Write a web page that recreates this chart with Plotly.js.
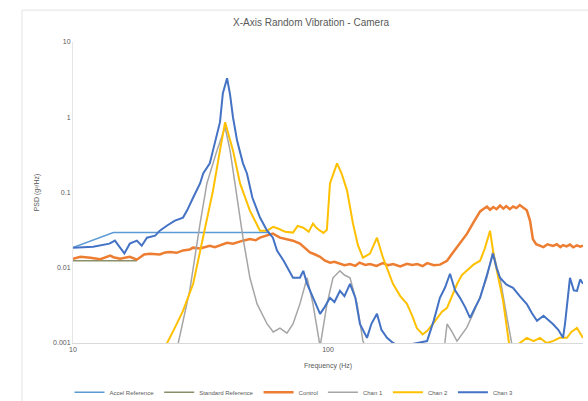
<!DOCTYPE html>
<html>
<head>
<meta charset="utf-8">
<script src="https://cdn.plot.ly/plotly-3.0.1.min.js"></script>
<style>html,body{margin:0;padding:0;background:#fff;}#chart{width:588px;height:401px;}</style>
</head>
<body>
<div id="chart"></div>
<script>
// ---- data ----
const seriesNames = ["Accel Reference", "Standard Reference", "Control", "Chan 1", "Chan 2", "Chan 3"];

const refFreq = [10, 14.4, 59.3];
const refVal  = [0.0185, 0.0293, 0.0293];

const stdFreq = [10, 17.8];
const stdVal  = [0.0124, 0.0124];

const ctrlFreq = [10, 10.7, 11.7, 12.8, 14.0, 14.4, 15.3, 16.7, 17.8, 19.0, 20.0, 21.9, 23.0, 24.0, 25.5, 27.0, 28.7, 29.6, 31.5, 33.0, 34.4, 36.0, 37.7, 40.2, 42.4, 44.5, 46.4, 49.4, 52.0, 54.1, 57.7, 60.8, 64.8, 69.0, 72.9, 77.6, 81.0, 85.0, 89.0, 93.1, 97.0, 101.8, 106, 111.4, 116, 122, 128, 133, 140, 146, 155, 164, 172, 180, 192, 204, 214, 224, 235, 245, 260, 275, 293, 305, 320, 335, 351, 372, 395, 408, 420, 432, 445, 458, 473, 487, 500, 516, 532, 548, 565, 582, 602, 620, 636, 655, 678, 700, 725, 762, 790, 815, 835, 862, 889, 915, 947, 975, 1000];
const ctrlVal  = [0.0132, 0.0140, 0.0136, 0.0130, 0.0145, 0.0138, 0.0132, 0.0140, 0.0128, 0.0150, 0.0154, 0.0150, 0.0160, 0.0162, 0.0158, 0.0170, 0.0175, 0.0185, 0.0180, 0.0190, 0.0196, 0.0188, 0.0200, 0.0215, 0.0209, 0.0222, 0.0229, 0.0240, 0.0232, 0.0251, 0.0267, 0.0284, 0.0251, 0.0240, 0.0229, 0.0209, 0.0185, 0.0160, 0.0150, 0.0140, 0.0125, 0.0117, 0.0120, 0.0113, 0.0108, 0.0112, 0.0106, 0.0117, 0.0109, 0.0112, 0.0106, 0.0115, 0.0108, 0.0112, 0.0104, 0.0113, 0.0109, 0.0112, 0.0105, 0.0115, 0.0108, 0.0110, 0.0124, 0.0150, 0.0185, 0.0230, 0.0284, 0.0400, 0.0560, 0.0610, 0.0650, 0.0590, 0.0640, 0.0600, 0.0670, 0.0610, 0.0660, 0.0600, 0.0650, 0.0620, 0.0680, 0.0630, 0.0580, 0.0420, 0.0240, 0.0205, 0.0196, 0.0188, 0.0205, 0.0195, 0.0205, 0.0188, 0.0200, 0.0192, 0.0203, 0.0187, 0.0198, 0.0190, 0.0196];

const greyFreq = [25.5, 28.7, 31.5, 33.5, 36.7, 39.5, 41.3, 44.0, 46.4, 49.4, 52.7, 57.7, 61.0, 64.8, 69.0, 72.9, 77.6, 82.8, 87.3, 93.1, 99.1, 104.6, 111.4, 116, 122, 130, 137.1, 142.2, 285, 293, 305, 320.5, 350, 372, 395, 420, 443.6, 460, 472.6, 503.6, 531.6];
const greyVal  = [0.0008, 0.0050, 0.0386, 0.132, 0.363, 0.735, 0.363, 0.0858, 0.0251, 0.00736, 0.00331, 0.00179, 0.00140, 0.00158, 0.00135, 0.00179, 0.00331, 0.00736, 0.00331, 0.0009, 0.00331, 0.00736, 0.0091, 0.0080, 0.00736, 0.00331, 0.00106, 0.0008, 0.0008, 0.00179, 0.00145, 0.00106, 0.00160, 0.00250, 0.00410, 0.00740, 0.0169, 0.0100, 0.00736, 0.00216, 0.0008];

const yelFreq = [22.0, 23.4, 25.1, 27.0, 29.6, 32.4, 35.4, 37.7, 39.5, 42.4, 45.2, 49.4, 54.1, 57.7, 61.0, 64.0, 68.0, 72.9, 76.0, 80.0, 84.0, 87.3, 90.0, 93.1, 96.0, 99.0, 101.8, 108.5, 113, 118.8, 125.3, 131, 137.1, 146.1, 155.6, 164.3, 179.8, 192, 204, 214, 223, 235, 245, 258, 268, 280, 293, 305, 321, 335, 351, 372, 395, 412, 432, 446, 460, 486, 517.4, 602, 640, 678, 720, 762, 810, 865, 900, 947, 1000];
const yelVal  = [0.0007, 0.001, 0.0016, 0.00267, 0.00612, 0.0251, 0.106, 0.363, 0.86, 0.363, 0.132, 0.0575, 0.0311, 0.0311, 0.0350, 0.0330, 0.0300, 0.0293, 0.0360, 0.0340, 0.0300, 0.0386, 0.0340, 0.0311, 0.0290, 0.0320, 0.132, 0.244, 0.180, 0.106, 0.0386, 0.0200, 0.0136, 0.0154, 0.0251, 0.0136, 0.00612, 0.00420, 0.00331, 0.00230, 0.00158, 0.00130, 0.00145, 0.00180, 0.00216, 0.00260, 0.00293, 0.00400, 0.00612, 0.00800, 0.0091, 0.0110, 0.0124, 0.0180, 0.0311, 0.0150, 0.0090, 0.00363, 0.0008, 0.00117, 0.00106, 0.00117, 0.00100, 0.00106, 0.00117, 0.00117, 0.00140, 0.00158, 0.00117];

const blueFreq = [10, 12.0, 13.9, 14.6, 15.3, 15.9, 16.7, 17.8, 18.6, 19.5, 21.0, 21.9, 23.4, 25.1, 27.0, 28.0, 29.6, 31.5, 32.4, 34.4, 35.4, 37.7, 38.7, 40.2, 41.3, 42.4, 44.0, 46.4, 48.1, 50.5, 54.1, 57.7, 60.8, 63.1, 67.0, 72.9, 77.6, 80.0, 82.8, 87.3, 93.1, 97.0, 101.8, 106, 111.4, 116, 122, 128, 133.4, 142.2, 148, 155.6, 162, 170.4, 180, 191.6, 244.6, 260, 274.7, 288, 300.9, 315, 329.3, 345, 360.6, 378, 394.8, 420, 443.6, 458, 472.6, 500, 531.6, 565, 602, 630, 660, 700, 762, 800, 835, 850, 865, 889, 920, 947, 975, 1000];
const blueVal  = [0.0185, 0.0190, 0.0209, 0.0229, 0.0185, 0.0155, 0.0209, 0.0229, 0.0196, 0.0251, 0.0267, 0.0311, 0.0364, 0.0424, 0.0464, 0.0575, 0.0858, 0.132, 0.179, 0.244, 0.363, 0.86, 2.09, 3.3, 2.0, 1.0, 0.49, 0.244, 0.179, 0.0858, 0.0464, 0.0311, 0.0251, 0.0169, 0.0124, 0.00736, 0.00736, 0.0091, 0.00612, 0.00398, 0.00244, 0.00300, 0.00398, 0.00350, 0.00494, 0.00420, 0.00612, 0.00400, 0.00179, 0.00117, 0.00180, 0.00244, 0.00150, 0.00117, 0.00100, 0.0009, 0.00106, 0.00200, 0.00398, 0.00550, 0.00832, 0.00500, 0.00398, 0.00300, 0.00216, 0.00300, 0.00398, 0.00800, 0.0154, 0.0100, 0.00736, 0.00600, 0.00541, 0.00420, 0.00330, 0.00250, 0.00197, 0.00230, 0.00179, 0.00150, 0.00117, 0.00180, 0.00300, 0.00736, 0.00500, 0.00494, 0.00700, 0.00612];

const yTickVals = [0.001, 0.01, 0.1, 1, 10];
const yTickText = ["0.001", "0.01", "0.1", "1", "10"];
const xTickVals = [10, 100, 1000];
const xTickText = ["10", "100", "1000"];

const titleText = "X-Axis Random Vibration - Camera";
const xTitleText = "Frequency (Hz)";
const yTitleText = "PSD (g²/Hz)";

// ---- traces ----
const traces = [
  {x: refFreq, y: refVal, name: seriesNames[0], mode: "lines", line: {color: "#5B9BD5", width: 1.5}},
  {x: stdFreq, y: stdVal, name: seriesNames[1], mode: "lines", line: {color: "#8a8f6a", width: 1.5}},
  {x: ctrlFreq, y: ctrlVal, name: seriesNames[2], mode: "lines", line: {color: "#ED7D31", width: 2.5}},
  {x: greyFreq, y: greyVal, name: seriesNames[3], mode: "lines", line: {color: "#A5A5A5", width: 1.5}},
  {x: yelFreq, y: yelVal, name: seriesNames[4], mode: "lines", line: {color: "#FFC000", width: 2}},
  {x: blueFreq, y: blueVal, name: seriesNames[5], mode: "lines", line: {color: "#4472C4", width: 2}}
];

const layout = {
  width: 588, height: 401,
  margin: {l: 73, r: 5, t: 42, b: 58, autoexpand: false},
  paper_bgcolor: "#fff", plot_bgcolor: "#fff",
  font: {family: "Liberation Sans, Arial, sans-serif", color: "#595959", size: 7},
  title: {text: titleText, font: {size: 10, color: "#595959"}, x: 0.529, xanchor: "center", y: 0.945, yanchor: "middle"},
  showlegend: true,
  legend: {orientation: "h", x: 0.5, xanchor: "center", xref: "container", y: 0.022, yref: "container", yanchor: "middle",
           font: {size: 6, color: "#595959"}, traceorder: "normal", itemwidth: 30, tracegroupgap: 0},
  xaxis: {
    type: "log", range: [1, 3], tickvals: xTickVals, ticktext: xTickText, automargin: false,
    showgrid: false, zeroline: false, showline: true, linecolor: "#d9d9d9", linewidth: 1,
    ticks: "", tickfont: {size: 7, color: "#595959"},
    title: {text: xTitleText, font: {size: 7, color: "#595959"}, standoff: 10}
  },
  yaxis: {
    type: "log", range: [-3, 1], tickvals: yTickVals, ticktext: yTickText, automargin: false,
    showgrid: false, zeroline: false, showline: true, linecolor: "#e6e6e6", linewidth: 1,
    ticks: "", tickfont: {size: 7, color: "#595959"},
    title: {text: yTitleText, font: {size: 7, color: "#595959"}, standoff: 12}
  },
  shapes: [
    {type: "rect", xref: "paper", yref: "paper", x0: -0.1, x1: 1.2, y0: -0.3, y1: 1.106,
     line: {color: "#e3e3e3", width: 1}, fillcolor: "rgba(0,0,0,0)", layer: "below"}
  ]
};

Plotly.newPlot("chart", traces, layout, {staticPlot: true, displayModeBar: false});
</script>
</body>
</html>
